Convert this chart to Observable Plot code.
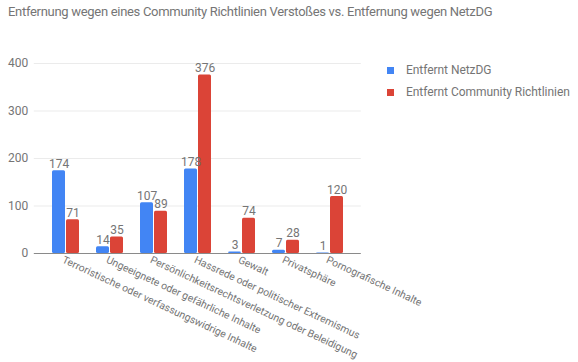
<!DOCTYPE html>
<html>
<head>
<meta charset="utf-8">
<script src="https://cdn.jsdelivr.net/npm/d3@7"></script>
<script src="https://cdn.jsdelivr.net/npm/@observablehq/plot@0.6"></script>
<style>
  html, body { margin: 0; padding: 0; background: #fff; }
  #wrap { position: relative; width: 578px; height: 362px; font-family: Roboto, sans-serif; }
  #title { position: absolute; left: 8px; top: 3px; font-size: 13px; letter-spacing: -0.3px; color: #757575; white-space: nowrap; line-height: 18px; }
  #legend { position: absolute; left: 387px; top: 59px; font-size: 12px; letter-spacing: -0.05px; color: #757575; }
  .li { display: flex; align-items: center; height: 22px; white-space: nowrap; }
  .sw { width: 7px; height: 7px; margin-right: 12px; }
  #chart { position: absolute; left: 0; top: 0; }
</style>
</head>
<body>
<div id="wrap">
  <div id="chart"></div>
  <div id="title"></div>
  <div id="legend"></div>
</div>
<script>
const title = "Entfernung wegen eines Community Richtlinien Verstoßes vs. Entfernung wegen NetzDG";
const categories = [
  "Terroristische oder verfassungswidrige Inhalte",
  "Ungeeignete oder gefährliche Inhalte",
  "Persönlichkeitsrechtsverletzung oder Beleidigung",
  "Hassrede oder politischer Extremismus",
  "Gewalt",
  "Privatsphäre",
  "Pornografische Inhalte"
];
const series = ["Entfernt NetzDG", "Entfernt Community Richtlinien"];
const netzdg = [174, 14, 107, 178, 3, 7, 1];
const community = [71, 35, 89, 376, 74, 28, 120];
const yTicks = [0, 100, 200, 300, 400];
const colors = ["#4285f4", "#db4437"];

const data = categories.flatMap((c, i) => [
  {category: c, series: series[0], value: netzdg[i]},
  {category: c, series: series[1], value: community[i]}
]);

const textColor = "#757575";
const W = 578, H = 362, ML = 33, MR = 218, MT = 63, MB = 109;
const padIn = 0.365, padOut = 0.39;
// extension of frame-wide lines beyond the first facet, derived from the fx band layout
const step = (W - ML - MR) / (categories.length - padIn + 2 * padOut);
const ext = step * padOut;
const extRight = -(W - ML - MR - ext - step * (1 - padIn));
const firstCat = () => categories[0];

const chart = Plot.plot({
  width: W,
  height: H,
  marginTop: MT,
  marginBottom: MB,
  marginLeft: ML,
  marginRight: MR,
  style: {fontFamily: "Roboto, sans-serif", background: "transparent", overflow: "visible"},
  fx: {domain: categories, paddingInner: padIn, paddingOuter: padOut, axis: null, label: null},
  x: {domain: series, paddingInner: 0.08, paddingOuter: 0, axis: null, label: null},
  y: {domain: [0, 400], axis: null, label: null},
  color: {domain: series, range: colors},
  marks: [
    Plot.ruleY(yTicks.slice(1), {fx: firstCat, stroke: "#ebebeb", insetLeft: -ext, insetRight: extRight}),
    Plot.text(yTicks, {fx: firstCat, y: d => d, text: d => String(d), frameAnchor: "left", textAnchor: "end", dx: -ext - 6, fill: textColor, fontSize: 12}),
    Plot.barY(data, {fx: "category", x: "series", y: "value", fill: "series", rx: 1.5}),
    Plot.text(data, {fx: "category", x: "series", y: "value", text: d => String(d.value), lineAnchor: "bottom", dy: -3, fill: textColor, fontSize: 12}),
    Plot.ruleY([0], {fx: firstCat, stroke: "#8a8a8a", insetLeft: -ext, insetRight: extRight}),
    Plot.text(categories, {fx: d => d, text: d => d, frameAnchor: "bottom", lineAnchor: "top", textAnchor: "start", rotate: 25, dx: -1, dy: 2, fill: textColor, fontSize: 10.4})
  ]
});
document.getElementById("chart").appendChild(chart);
document.getElementById("title").textContent = title;
const legend = document.getElementById("legend");
series.forEach((s, i) => {
  const row = document.createElement("div");
  row.className = "li";
  const sw = document.createElement("div");
  sw.className = "sw";
  sw.style.background = colors[i];
  const t = document.createElement("span");
  t.textContent = s;
  row.appendChild(sw);
  row.appendChild(t);
  legend.appendChild(row);
});
</script>
</body>
</html>
